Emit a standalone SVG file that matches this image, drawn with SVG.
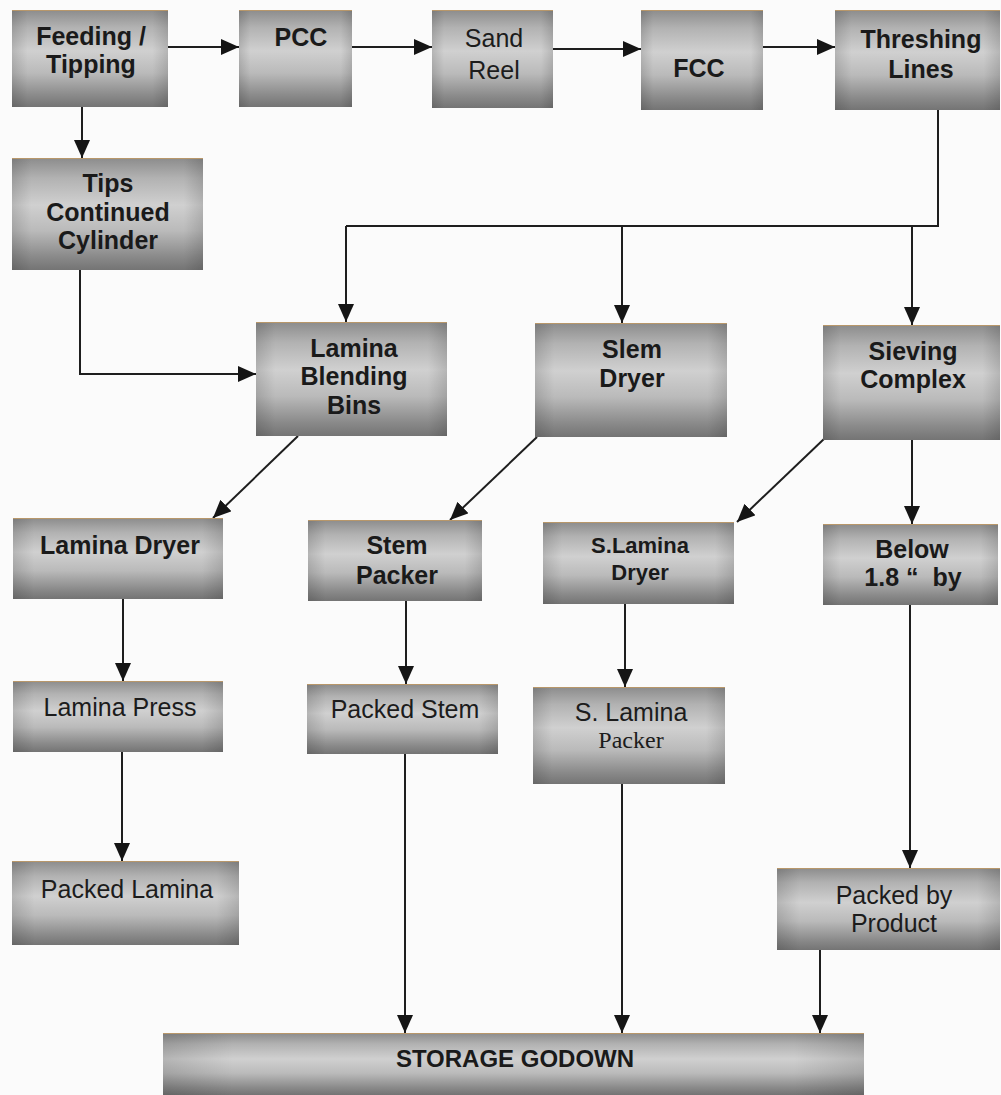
<svg xmlns="http://www.w3.org/2000/svg" width="1001" height="1095" viewBox="0 0 1001 1095">
  <defs>
    <!-- vertical metallic shading of process boxes -->
    <linearGradient id="shade" x1="0" y1="0" x2="0" y2="1">
      <stop offset="0" stop-color="#8c8c8c"/>
      <stop offset="0.18" stop-color="#b2b2b2"/>
      <stop offset="0.42" stop-color="#d0d0d0"/>
      <stop offset="0.65" stop-color="#bababa"/>
      <stop offset="0.88" stop-color="#8a8a8a"/>
      <stop offset="1" stop-color="#747474"/>
    </linearGradient>
    <!-- darker side edges -->
    <linearGradient id="sides" x1="0" y1="0" x2="1" y2="0">
      <stop offset="0" stop-color="#000" stop-opacity="0.13"/>
      <stop offset="0.1" stop-color="#000" stop-opacity="0"/>
      <stop offset="0.9" stop-color="#000" stop-opacity="0"/>
      <stop offset="1" stop-color="#000" stop-opacity="0.13"/>
    </linearGradient>
    <marker id="head" viewBox="0 0 18 16" refX="18" refY="8" markerWidth="18" markerHeight="16" markerUnits="userSpaceOnUse" orient="auto">
      <path d="M0,0 L18,8 L0,16 Z" fill="#151515"/>
    </marker>
    <style>
      .box { fill: url(#shade); }
      .edge { fill: url(#sides); }
      .rim { stroke: #b8976a; stroke-width: 1; }
      .b { font-family: "Liberation Sans", Arial, sans-serif; font-weight: bold; font-size: 25px; fill: #1a1a1a; text-anchor: middle; }
      .r { font-family: "Liberation Sans", Arial, sans-serif; font-size: 25px; fill: #1c1c1c; text-anchor: middle; }
      .s { font-family: "Liberation Serif", "Times New Roman", serif; font-size: 24px; fill: #1c1c1c; text-anchor: middle; }
      .link { fill: none; stroke: #1e1e1e; stroke-width: 2; marker-end: url(#head); }
    </style>
  </defs>

  <rect width="1001" height="1095" fill="#fbfbfb"/>

  <!-- connectors -->
  <g id="connectors">
    <path class="link" d="M168,47 H239"/>
    <path class="link" d="M352,47 H432"/>
    <path class="link" d="M553,49 H641"/>
    <path class="link" d="M763,47 H835"/>
    <path class="link" d="M82,107 V158"/>
    <path fill="none" stroke="#1e1e1e" stroke-width="2" d="M938,110 V226 H346"/>
    <path class="link" d="M346,226 V322"/>
    <path class="link" d="M622,226 V323"/>
    <path class="link" d="M912,226 V325"/>
    <path class="link" d="M80,270 V374 H256"/>
    <path class="link" d="M298,436 L213,518"/>
    <path class="link" d="M537,437 L450,520"/>
    <path class="link" d="M825,438 L737,522"/>
    <path class="link" d="M912,440 V524"/>
    <path class="link" d="M123,599 V681"/>
    <path class="link" d="M406,601 V684"/>
    <path class="link" d="M625,604 V687"/>
    <path class="link" d="M910,605 V868"/>
    <path class="link" d="M122,752 V861"/>
    <path class="link" d="M405,754 V1033"/>
    <path class="link" d="M622,784 V1033"/>
    <path class="link" d="M820,950 V1033"/>
  </g>

  <g id="feeding">
    <rect class="box" x="12" y="10" width="156" height="97"/>
    <rect class="edge" x="12" y="10" width="156" height="97"/>
    <line class="rim" x1="12" y1="10.5" x2="168" y2="10.5"/>
    <text class="b" x="91" y="45">Feeding /</text>
    <text class="b" x="91" y="73">Tipping</text>
  </g>

  <g id="pcc">
    <rect class="box" x="239" y="10" width="113" height="97"/>
    <rect class="edge" x="239" y="10" width="113" height="97"/>
    <line class="rim" x1="239" y1="10.5" x2="352" y2="10.5"/>
    <text class="b" x="301" y="46">PCC</text>
  </g>

  <g id="sand-reel">
    <rect class="box" x="432" y="10" width="121" height="98"/>
    <rect class="edge" x="432" y="10" width="121" height="98"/>
    <line class="rim" x1="432" y1="10.5" x2="553" y2="10.5"/>
    <text class="r" x="494" y="47">Sand</text>
    <text class="r" x="494" y="79">Reel</text>
  </g>

  <g id="fcc">
    <rect class="box" x="641" y="10" width="122" height="100"/>
    <rect class="edge" x="641" y="10" width="122" height="100"/>
    <line class="rim" x1="641" y1="10.5" x2="763" y2="10.5"/>
    <text class="b" x="699" y="77">FCC</text>
  </g>

  <g id="threshing">
    <rect class="box" x="835" y="10" width="165" height="100"/>
    <rect class="edge" x="835" y="10" width="165" height="100"/>
    <line class="rim" x1="835" y1="10.5" x2="1000" y2="10.5"/>
    <text class="b" x="921" y="48">Threshing</text>
    <text class="b" x="921" y="78">Lines</text>
  </g>

  <g id="tips">
    <rect class="box" x="12" y="158" width="191" height="112"/>
    <rect class="edge" x="12" y="158" width="191" height="112"/>
    <line class="rim" x1="12" y1="158.5" x2="203" y2="158.5"/>
    <text class="b" x="108" y="192">Tips</text>
    <text class="b" x="108" y="221">Continued</text>
    <text class="b" x="108" y="249">Cylinder</text>
  </g>

  <g id="blending">
    <rect class="box" x="256" y="322" width="191" height="114"/>
    <rect class="edge" x="256" y="322" width="191" height="114"/>
    <line class="rim" x1="256" y1="322.5" x2="447" y2="322.5"/>
    <text class="b" x="354" y="357">Lamina</text>
    <text class="b" x="354" y="385">Blending</text>
    <text class="b" x="354" y="414">Bins</text>
  </g>

  <g id="slem-dryer">
    <rect class="box" x="535" y="323" width="192" height="114"/>
    <rect class="edge" x="535" y="323" width="192" height="114"/>
    <line class="rim" x1="535" y1="323.5" x2="727" y2="323.5"/>
    <text class="b" x="632" y="358">Slem</text>
    <text class="b" x="632" y="387">Dryer</text>
  </g>

  <g id="sieving">
    <rect class="box" x="823" y="325" width="177" height="115"/>
    <rect class="edge" x="823" y="325" width="177" height="115"/>
    <line class="rim" x1="823" y1="325.5" x2="1000" y2="325.5"/>
    <text class="b" x="913" y="360">Sieving</text>
    <text class="b" x="913" y="388">Complex</text>
  </g>

  <g id="lamina-dryer">
    <rect class="box" x="13" y="518" width="210" height="81"/>
    <rect class="edge" x="13" y="518" width="210" height="81"/>
    <line class="rim" x1="13" y1="518.5" x2="223" y2="518.5"/>
    <text class="b" x="120" y="554">Lamina Dryer</text>
  </g>

  <g id="stem-packer">
    <rect class="box" x="308" y="520" width="174" height="81"/>
    <rect class="edge" x="308" y="520" width="174" height="81"/>
    <line class="rim" x1="308" y1="520.5" x2="482" y2="520.5"/>
    <text class="b" x="397" y="554">Stem</text>
    <text class="b" x="397" y="584">Packer</text>
  </g>

  <g id="s-lamina-dryer">
    <rect class="box" x="543" y="522" width="191" height="82"/>
    <rect class="edge" x="543" y="522" width="191" height="82"/>
    <line class="rim" x1="543" y1="522.5" x2="734" y2="522.5"/>
    <text class="b" x="640" y="553" style="font-size:22px">S.Lamina</text>
    <text class="b" x="640" y="580" style="font-size:22px">Dryer</text>
  </g>

  <g id="below">
    <rect class="box" x="823" y="524" width="175" height="81"/>
    <rect class="edge" x="823" y="524" width="175" height="81"/>
    <line class="rim" x1="823" y1="524.5" x2="998" y2="524.5"/>
    <text class="b" x="912" y="558">Below</text>
    <text class="b" x="913" y="586" xml:space="preserve">1.8 “  by</text>
  </g>

  <g id="lamina-press">
    <rect class="box" x="13" y="681" width="210" height="71"/>
    <rect class="edge" x="13" y="681" width="210" height="71"/>
    <line class="rim" x1="13" y1="681.5" x2="223" y2="681.5"/>
    <text class="r" x="120" y="716">Lamina Press</text>
  </g>

  <g id="packed-stem">
    <rect class="box" x="307" y="684" width="191" height="70"/>
    <rect class="edge" x="307" y="684" width="191" height="70"/>
    <line class="rim" x1="307" y1="684.5" x2="498" y2="684.5"/>
    <text class="r" x="405" y="718">Packed Stem</text>
  </g>

  <g id="s-lamina-packer">
    <rect class="box" x="533" y="687" width="192" height="97"/>
    <rect class="edge" x="533" y="687" width="192" height="97"/>
    <line class="rim" x1="533" y1="687.5" x2="725" y2="687.5"/>
    <text class="r" x="631" y="721">S. Lamina</text>
    <text class="s" x="631" y="748">Packer</text>
  </g>

  <g id="packed-lamina">
    <rect class="box" x="12" y="861" width="227" height="84"/>
    <rect class="edge" x="12" y="861" width="227" height="84"/>
    <line class="rim" x1="12" y1="861.5" x2="239" y2="861.5"/>
    <text class="r" x="127" y="898">Packed Lamina</text>
  </g>

  <g id="packed-by-product">
    <rect class="box" x="777" y="868" width="223" height="82"/>
    <rect class="edge" x="777" y="868" width="223" height="82"/>
    <line class="rim" x1="777" y1="868.5" x2="1000" y2="868.5"/>
    <text class="r" x="894" y="904">Packed by</text>
    <text class="r" x="894" y="932">Product</text>
  </g>

  <g id="storage">
    <rect class="box" x="163" y="1033" width="701" height="62"/>
    <rect class="edge" x="163" y="1033" width="701" height="62"/>
    <line class="rim" x1="163" y1="1033.5" x2="864" y2="1033.5"/>
    <text class="b" x="515" y="1067" style="font-size:24px">STORAGE GODOWN</text>
  </g>
</svg>
